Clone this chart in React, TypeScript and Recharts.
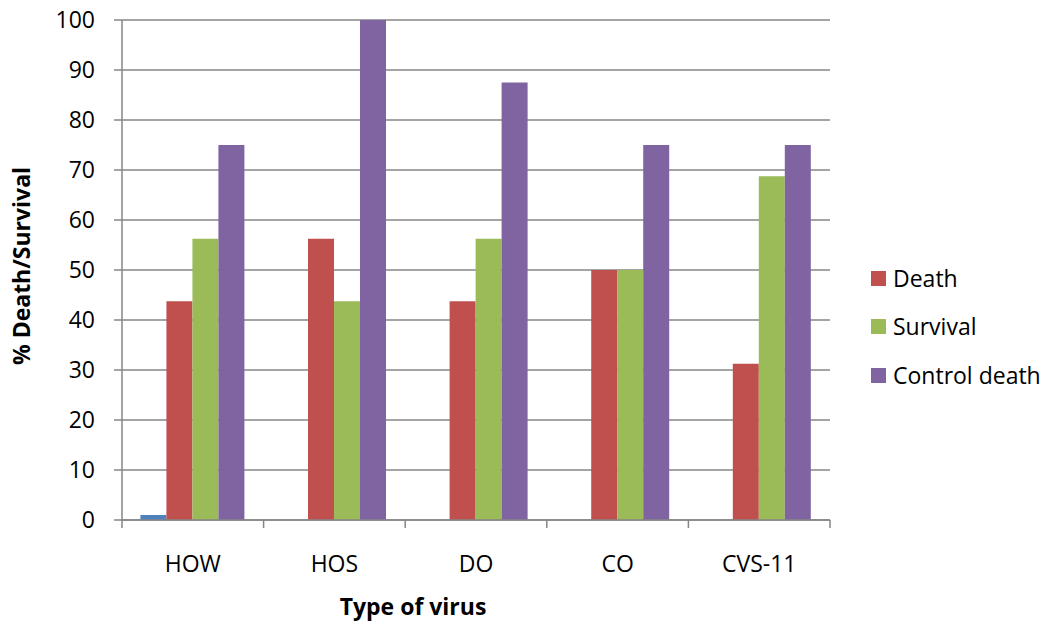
import React from "react";
import { Bar, BarChart, CartesianGrid, XAxis, YAxis } from "recharts";

const CATEGORIES = ["HOW", "HOS", "DO", "CO", "CVS-11"];
const BASELINE = [1, 0, 0, 0, 0];
const DEATH = [43.75, 56.25, 43.75, 50, 31.25];
const SURVIVAL = [56.25, 43.75, 56.25, 50, 68.75];
const CONTROL_DEATH = [75, 100, 87.5, 75, 75];
const Y_TICKS = [0, 10, 20, 30, 40, 50, 60, 70, 80, 90, 100];

const data = CATEGORIES.map((name, i) => ({
  name,
  baseline: BASELINE[i],
  death: DEATH[i],
  survival: SURVIVAL[i],
  control: CONTROL_DEATH[i],
}));

const W = 1044;
const H = 622;
const MARGIN = { top: 20, right: 214, bottom: 0, left: 0 };
const Y_WIDTH = 122;
const PLOT_W = W - MARGIN.right - Y_WIDTH;
const BAND = PLOT_W / CATEGORIES.length;
const FONT = "Open Sans, sans-serif";
const FS = 23;
const AXIS = "#868686";

const LEGEND = [
  { label: "Death", color: "#C0504D" },
  { label: "Survival", color: "#9BBB59" },
  { label: "Control death", color: "#8064A2" },
];

function CategoryTick(props: any) {
  const { x, y, payload, index } = props;
  const left = x - BAND / 2;
  return (
    <g>
      <line x1={left} y1={y - 8} x2={left} y2={y} stroke={AXIS} strokeWidth={1.5} />
      {index === CATEGORIES.length - 1 && (
        <line x1={left + BAND} y1={y - 8} x2={left + BAND} y2={y} stroke={AXIS} strokeWidth={1.5} />
      )}
      <text x={x} y={y + 44} textAnchor="middle" fontSize={FS} fontFamily={FONT} fill="#000">
        {payload.value}
      </text>
    </g>
  );
}

export default function App() {
  return (
    <div style={{ position: "absolute", left: 0, top: 0, width: W, height: H, background: "#fff" }}>
      <BarChart
        width={W}
        height={H}
        data={data}
        margin={MARGIN}
        barGap={0}
        barCategoryGap="13%"
      >
        <CartesianGrid vertical={false} stroke={AXIS} strokeWidth={1.5} />
        <XAxis
          dataKey="name"
          height={102}
          tick={<CategoryTick />}
          tickLine={false}
          axisLine={{ stroke: AXIS, strokeWidth: 1.5 }}
          interval={0}
          label={{
            value: "Type of virus",
            position: "insideBottom",
            offset: 7,
            dx: -63,
            style: { fontFamily: FONT, fontWeight: 700, fontSize: FS, fill: "#000" },
          }}
        />
        <YAxis
          width={Y_WIDTH}
          domain={[0, 100]}
          ticks={Y_TICKS}
          interval={0}
          tickSize={8}
          tickMargin={19}
          tickLine={{ stroke: AXIS, strokeWidth: 1.5 }}
          axisLine={{ stroke: AXIS, strokeWidth: 1.5 }}
          tick={{ fontFamily: FONT, fontSize: FS, fill: "#000" }}
          label={{
            value: "% Death/Survival",
            angle: -90,
            position: "insideLeft",
            offset: 22,
            dy: -4,
            style: { fontFamily: FONT, fontWeight: 700, fontSize: FS, fill: "#000", textAnchor: "middle" },
          }}
        />
        <Bar dataKey="baseline" fill="#4F81BD" legendType="none" isAnimationActive={false} />
        <Bar dataKey="death" name="Death" fill="#C0504D" isAnimationActive={false} />
        <Bar dataKey="survival" name="Survival" fill="#9BBB59" isAnimationActive={false} />
        <Bar dataKey="control" name="Control death" fill="#8064A2" isAnimationActive={false} />
      </BarChart>
      <div
        style={{
          position: "absolute",
          left: 871,
          top: 254,
          fontFamily: FONT,
          fontSize: FS,
          color: "#000",
          lineHeight: 1,
        }}
      >
        {LEGEND.map((item) => (
          <div key={item.label} style={{ display: "flex", alignItems: "center", height: 48.5 }}>
            <span style={{ width: 15, height: 15, background: item.color, marginRight: 7, flex: "none" }} />
            <span style={{ whiteSpace: "nowrap" }}>{item.label}</span>
          </div>
        ))}
      </div>
    </div>
  );
}
